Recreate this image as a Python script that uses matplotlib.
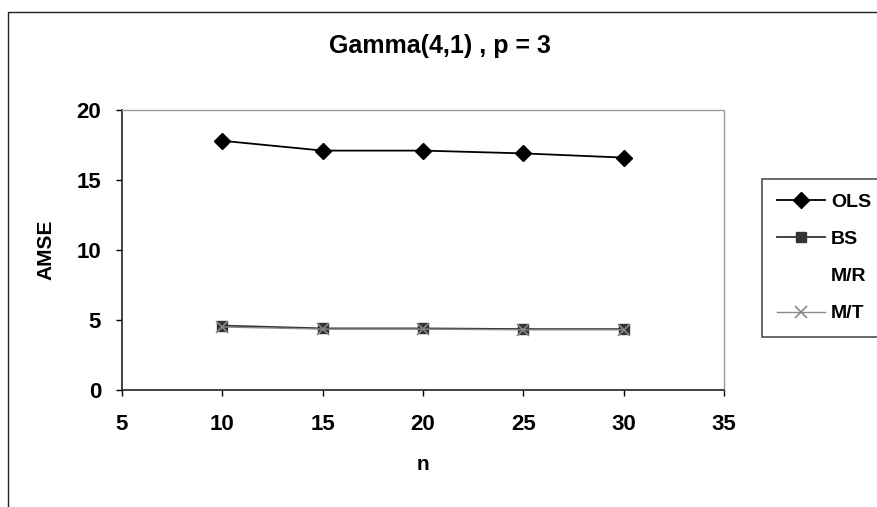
import matplotlib
matplotlib.use("Agg")
import matplotlib.pyplot as plt
from matplotlib.patches import Rectangle

# Sample sizes and average mean squared errors per estimator
n_values = [10, 15, 20, 25, 30]
amse_ols = [17.8, 17.1, 17.1, 16.9, 16.6]
amse_bs = [4.6, 4.4, 4.4, 4.35, 4.35]
amse_mr = [4.5, 4.35, 4.35, 4.3, 4.3]
amse_mt = [4.5, 4.35, 4.35, 4.3, 4.3]

x_ticks = [5, 10, 15, 20, 25, 30, 35]
y_ticks = [0, 5, 10, 15, 20]

plt.rcParams['font.family'] = ['Liberation Sans', 'DejaVu Sans']
plt.rcParams['font.weight'] = 'bold'

fig = plt.figure(figsize=(8.77, 5.07), dpi=100)
W, H = 877, 507

# outer chart frame
fig.patches.append(Rectangle((8 / W, -0.1), 1.2, 1 - 12 / H + 0.1,
                             transform=fig.transFigure, fill=False,
                             edgecolor='#222222', linewidth=1.0))

ax = fig.add_axes([122 / W, 1 - 390 / H, (724 - 122) / W, (390 - 110) / H])

ax.plot(n_values, amse_ols, color='black', linewidth=1.3, marker='D',
        markersize=8, label='OLS')
ax.plot(n_values, amse_bs, color='#333333', linewidth=1.3, marker='s',
        markersize=7, label='BS')
ax.plot(n_values, amse_mr, linestyle='None', marker='None', label='M/R')
ax.plot(n_values, amse_mt, color='#888888', linewidth=1.0, marker='x',
        markersize=8, markeredgewidth=1.2, label='M/T')

ax.set_xlim(5, 35)
ax.set_ylim(0, 20)
ax.set_xticks(x_ticks)
ax.set_yticks(y_ticks)
ax.tick_params(axis='x', labelsize=16, direction='out', length=4,
               width=1, pad=13)
ax.tick_params(axis='y', labelsize=16, direction='out', length=4,
               width=1, pad=11)
for lab in ax.get_xticklabels() + ax.get_yticklabels():
    lab.set_fontweight('bold')

ax.spines['left'].set_color('#222222')
ax.spines['bottom'].set_color('#222222')
ax.spines['left'].set_linewidth(1.2)
ax.spines['bottom'].set_linewidth(1.2)
for s in ('top', 'right'):
    ax.spines[s].set_color('#999999')
    ax.spines[s].set_linestyle((0, (1, 1)))
    ax.spines[s].set_linewidth(1.0)

ax.set_xlabel('n', fontsize=15, fontweight='bold')
ax.set_ylabel('AMSE', fontsize=15, fontweight='bold')
ax.xaxis.set_label_coords((423 - 122) / 602, (390 - 465) / 280)
ax.yaxis.set_label_coords((46 - 122) / 602, (390 - 250) / 280)
ax.xaxis.label.set_va('center')
ax.yaxis.label.set_va('center')

fig.text(440 / W, 1 - 46 / H, 'Gamma(4,1) , p = 3', ha='center', va='center',
         fontsize=18, fontweight='bold')

leg = fig.legend(loc='upper left', bbox_to_anchor=(762 / W, 1 - 179 / H),
                 frameon=True, fancybox=False, fontsize=14,
                 handlelength=2.5, handletextpad=0.3, labelspacing=1.0,
                 borderpad=0.75, borderaxespad=0)
leg.get_frame().set_edgecolor('#222222')
leg.get_frame().set_linewidth(1.2)
for t in leg.get_texts():
    t.set_fontweight('bold')

fig.savefig('out.png', dpi=100)
